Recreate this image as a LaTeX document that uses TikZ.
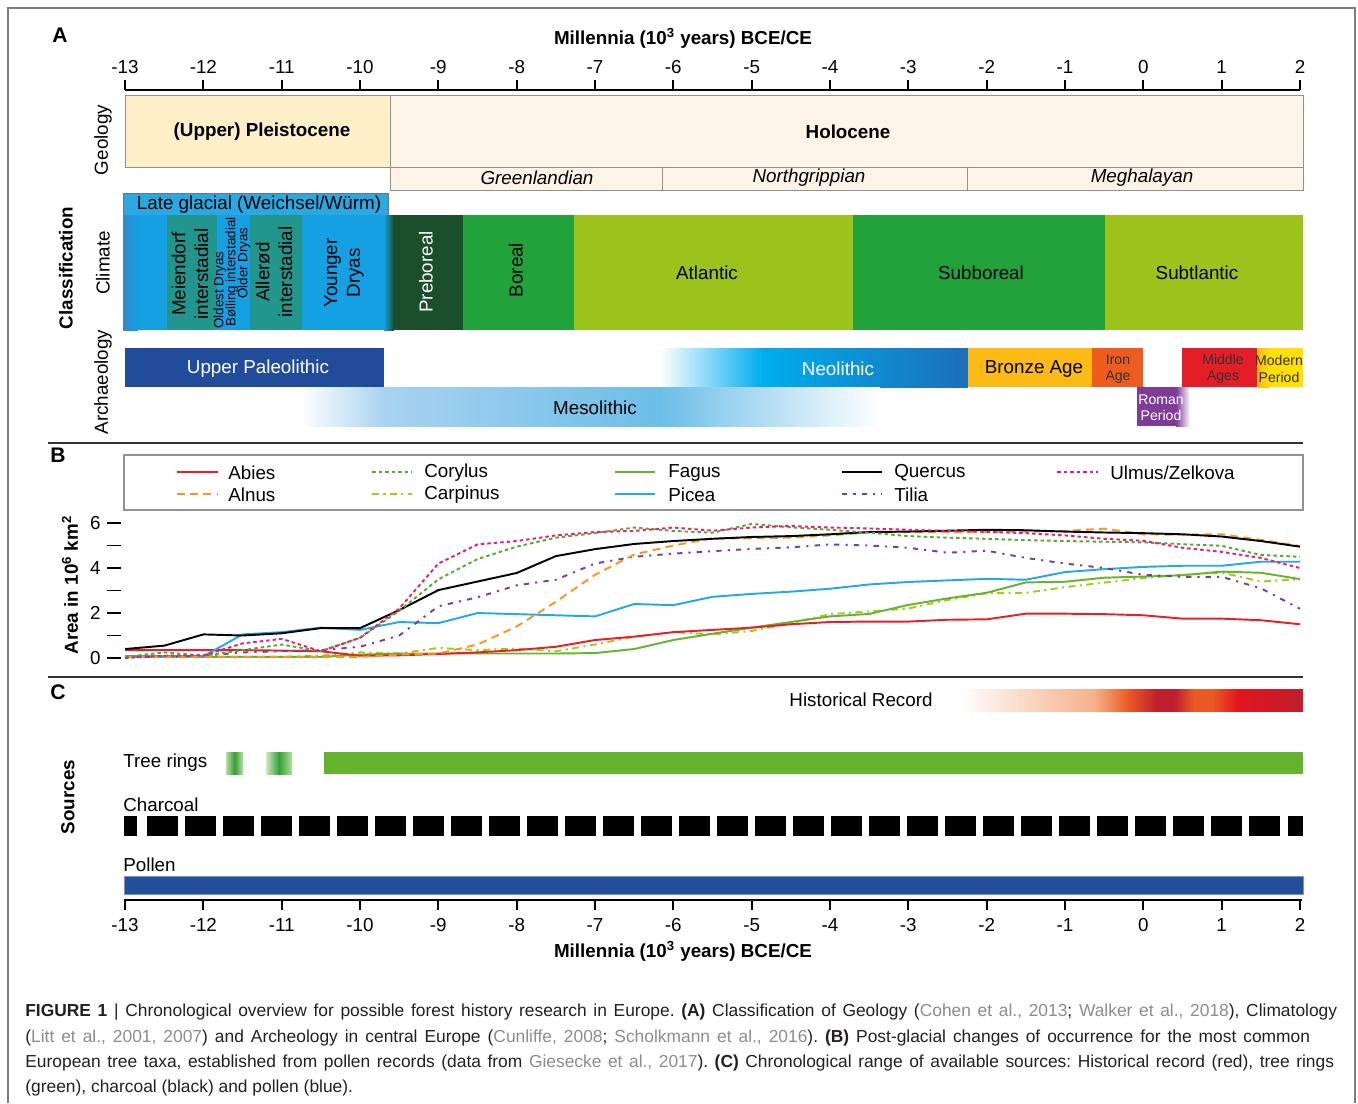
\documentclass[tikz,border=0pt]{standalone}
\usepackage{fontspec}
\setmainfont{Liberation Sans}
\usepackage{tikz}
\usetikzlibrary{calc}
\usepackage{xcolor}
\frenchspacing

\definecolor{framegray}{RGB}{125,125,125}
\definecolor{boxgray}{RGB}{145,145,145}
\definecolor{pleisto}{RGB}{253,240,200}
\definecolor{holo}{RGB}{253,243,230}
\definecolor{lateglacial}{RGB}{42,168,225}
\definecolor{climblue}{RGB}{20,160,226}
\definecolor{edgeblue}{RGB}{55,135,205}
\definecolor{climteal}{RGB}{34,150,140}
\definecolor{preboreal}{RGB}{27,78,42}
\definecolor{borealgreen}{RGB}{33,162,58}
\definecolor{atlanticgreen}{RGB}{155,195,28}
\definecolor{paleoblue}{RGB}{33,76,155}
\definecolor{neocyan}{RGB}{0,174,239}
\definecolor{neoblue}{RGB}{28,110,184}
\definecolor{bronze}{RGB}{252,186,20}
\definecolor{iron}{RGB}{237,92,30}
\definecolor{middleages}{RGB}{228,30,38}
\definecolor{modern}{RGB}{255,224,0}
\definecolor{roman}{RGB}{126,60,152}
\definecolor{mesolight}{RGB}{168,210,240}
\definecolor{mesomid}{RGB}{108,190,232}
\definecolor{abiesred}{RGB}{232,30,40}
\definecolor{alnusorange}{RGB}{248,150,30}
\definecolor{corylusgreen}{RGB}{85,170,50}
\definecolor{carpinusgreen}{RGB}{170,200,20}
\definecolor{fagusgreen}{RGB}{100,180,45}
\definecolor{piceablue}{RGB}{35,170,230}
\definecolor{tiliapurple}{RGB}{125,60,150}
\definecolor{ulmuspink}{RGB}{232,30,120}
\definecolor{histpeach}{RGB}{245,176,138}
\definecolor{historange}{RGB}{235,90,36}
\definecolor{histdark}{RGB}{190,30,45}
\definecolor{histred}{RGB}{227,20,28}
\definecolor{treegreen}{RGB}{101,178,46}
\definecolor{ringgreen}{RGB}{50,160,55}
\definecolor{pollenblue}{RGB}{34,78,154}
\definecolor{citegray}{RGB}{140,140,140}
\definecolor{captext}{RGB}{35,31,32}

\tikzset{
	panel/.style={inner sep=0pt, font=\bfseries\fontsize{12}{14}\selectfont},
	lbl/.style={inner sep=0pt, font=\fontsize{10.7}{13}\selectfont},
	blbl/.style={inner sep=0pt, font=\bfseries\fontsize{10.7}{13}\selectfont},
	sml/.style={inner sep=0pt, align=center, font=\fontsize{8}{9.3}\selectfont},
	minilbl/.style={inner sep=0pt, rotate=90, font=\fontsize{7.6}{8}\selectfont},
	twoline/.style={inner sep=0pt, align=center, rotate=90, font=\fontsize{10.7}{13}\selectfont},
	geobox/.style={draw=boxgray, line width=0.5pt},
	axisline/.style={line width=1.2pt},
	sepline/.style={draw=black!80, line width=0.7pt},
	capline/.style={inner sep=0pt, anchor=base west, text=captext, font=\fontsize{9.9}{14}\selectfont},
	taxon/.style={line width=1.1pt, line cap=butt, line join=round},
	abies/.style={taxon, abiesred},
	alnus/.style={taxon, alnusorange, dash pattern=on 4.5pt off 3pt},
	corylus/.style={taxon, corylusgreen, dash pattern=on 2pt off 1.7pt},
	carpinus/.style={taxon, carpinusgreen, dash pattern=on 4pt off 2.5pt on 1.2pt off 2.5pt},
	fagus/.style={taxon, fagusgreen},
	picea/.style={taxon, piceablue},
	quercus/.style={taxon, black},
	tilia/.style={taxon, tiliapurple, dash pattern=on 3pt off 3.5pt on 1.2pt off 3.5pt},
	ulmus/.style={taxon, ulmuspink, dash pattern=on 2pt off 1.7pt}
}

\begin{document}
\begin{tikzpicture}[x=0.02cm, y=-0.02cm]
	\useasboundingbox (0, 0) rectangle (1358, 1103);
	\draw [framegray, line width=0.8pt] (8, 1103) -- (8, 8) -- (1355, 8) -- (1355, 1103);

	% panel A
	\node [panel] (pa) at (60, 35) {A};
	\node [blbl] (toptitle) at (683, 38) {Millennia (10\textsuperscript{3} years) BCE/CE};
	\draw [axisline] (125, 90) -- (1300, 90);
	\foreach \m in {-13,...,2} {
		\draw [axisline] ({1143.3+78.33*\m}, 90) -- ++(0, -10);
		\node [lbl] (top\m) at ({1143.3+78.33*\m}, 67) {\m};
	}

	% geology
	\draw [geobox, fill=pleisto] (125, 95) rectangle (390, 167);
	\draw [geobox, fill=holo] (390, 95) rectangle (1303, 167);
	\draw [geobox, fill=holo] (390, 167) rectangle (662, 190);
	\draw [geobox, fill=holo] (662, 167) rectangle (967, 190);
	\draw [geobox, fill=holo] (967, 167) rectangle (1303, 190);
	\node [blbl] (pleistocene) at (262, 132) {(Upper) Pleistocene};
	\node [blbl] (holocene) at (848, 132) {Holocene};
	\node [lbl, font=\itshape\fontsize{10.7}{13}\selectfont] (greenlandian) at (537, 178) {Greenlandian};
	\node [lbl, font=\itshape\fontsize{10.7}{13}\selectfont] (northgrippian) at (809, 178) {Northgrippian};
	\node [lbl, font=\itshape\fontsize{10.7}{13}\selectfont] (meghalayan) at (1142, 178) {Meghalayan};

	% climate
	\draw [draw=black!55, fill=lateglacial, line width=0.5pt] (123, 193) rectangle (388, 215);
	\node [lbl] (lateglac) at (259, 205) {Late glacial (Weichsel/Würm)};
	\fill [climblue] (123, 215) rectangle (392, 330);
	\shade [left color=edgeblue, right color=climblue] (123, 215) rectangle (138, 330);
	\fill [climteal] (167, 215) rectangle (217, 330);
	\fill [climteal] (250, 215) rectangle (302, 330);
	\shade [left color=climblue, right color=preboreal] (384, 215) rectangle (394, 330);
	\fill [preboreal] (394, 215) rectangle (463, 330);
	\fill [borealgreen] (463, 215) rectangle (574, 330);
	\fill [atlanticgreen] (574, 215) rectangle (853, 330);
	\fill [borealgreen] (853, 215) rectangle (1105, 330);
	\fill [atlanticgreen] (1105, 215) rectangle (1303, 330);
	\node [twoline] (meiendorf) at (190, 274) {Meiendorf\\interstadial};
	\node [minilbl] (oldest) at (220, 290) {Oldest Dryas};
	\node [minilbl] (bolling) at (232, 272) {Bølling interstadial};
	\node [minilbl] (older) at (244, 263) {Older Dryas};
	\node [twoline] (allerod) at (274, 272) {Allerød\\interstadial};
	\node [twoline] (younger) at (344, 273) {Younger\\Dryas};
	\node [lbl, rotate=90, text=white] (prebor) at (426, 272) {Preboreal};
	\node [lbl, rotate=90] (boreal) at (516, 270) {Boreal};
	\node [lbl] (atlantic) at (707, 273) {Atlantic};
	\node [lbl] (subboreal) at (981, 273) {Subboreal};
	\node [lbl] (subatl) at (1197, 273) {Subtlantic};

	% archaeology
	\fill [paleoblue] (125, 348) rectangle (384, 387);
	\shade [left color=white, right color=neocyan] (660, 348) rectangle (762, 387);
	\shade [left color=neocyan, right color=neoblue] (762, 348) rectangle (968, 387);
	\fill [bronze] (968, 348) rectangle (1092, 387);
	\fill [iron] (1092, 348) rectangle (1143, 387);
	\fill [middleages] (1182, 348) rectangle (1257, 387);
	\shade [left color=bronze, right color=modern] (1257, 348) rectangle (1270, 387);
	\fill [modern] (1270, 348) rectangle (1303, 387);
	\fill [roman] (1137, 387) rectangle (1176, 426);
	\shade [left color=roman, right color=white] (1176, 387) rectangle (1190, 426);
	\shade [left color=white, right color=mesolight] (300, 387) rectangle (385, 426);
	\shade [left color=mesolight, right color=mesomid] (385, 387) rectangle (660, 426);
	\shade [left color=mesomid, right color=white] (660, 387) rectangle (880, 426);
	\node [lbl, text=white] (upperpaleo) at (258, 369) {Upper Paleolithic};
	\node [lbl, text=white] (neolithic) at (838, 369) {Neolithic};
	\node [lbl] (bronzeage) at (1034, 369) {Bronze Age};
	\node [sml, text=black!80] (ironage) at (1118, 369) {Iron\\Age};
	\node [sml, text=black!80] (middle) at (1223, 369) {Middle\\Ages};
	\node [sml, text=black!80] (modernp) at (1279, 369) {Modern\\Period};
	\node [sml, text=white] (romanp) at (1161, 408) {Roman\\Period};
	\node [lbl] (mesolithic) at (595, 408) {Mesolithic};

	% side labels
	\node [lbl, rotate=90] (geology) at (103, 140) {Geology};
	\node [blbl, rotate=90] (classif) at (66, 268) {Classification};
	\node [lbl, rotate=90] (climate) at (103, 263) {Climate};
	\node [lbl, rotate=90] (archaeo) at (103, 382) {Archaeology};

	\draw [sepline] (48, 443) -- (1303, 443);
	\draw [sepline] (48, 677) -- (1303, 677);

	% panel B
	\node [panel] (pb) at (58, 455) {B};
	\draw [draw=boxgray, line width=0.7pt] (124, 455) rectangle (1303, 510);
	\draw [abies] (177, 472) -- (218, 472);
	\node [lbl, anchor=west] (labies) at (228, 473) {Abies};
	\draw [alnus] (177, 494) -- (218, 494);
	\node [lbl, anchor=west] (lalnus) at (228, 495) {Alnus};
	\draw [corylus] (372, 472) -- (412, 472);
	\node [lbl, anchor=west] (lcorylus) at (424, 473) {Corylus};
	\draw [carpinus] (372, 494) -- (412, 494);
	\node [lbl, anchor=west] (lcarpinus) at (424, 495) {Carpinus};
	\draw [fagus] (615, 472) -- (655, 472);
	\node [lbl, anchor=west] (lfagus) at (668, 473) {Fagus};
	\draw [picea] (615, 494) -- (655, 494);
	\node [lbl, anchor=west] (lpicea) at (668, 495) {Picea};
	\draw [quercus] (842, 472) -- (882, 472);
	\node [lbl, anchor=west] (lquercus) at (894, 473) {Quercus};
	\draw [tilia] (842, 494) -- (882, 494);
	\node [lbl, anchor=west] (ltilia) at (894, 495) {Tilia};
	\draw [ulmus] (1057, 472) -- (1098, 472);
	\node [lbl, anchor=west] (lulmus) at (1110, 473) {Ulmus/Zelkova};

	\foreach \v in {0,...,6}
		\draw [line width=0.8pt] (107, {658-22.5*\v}) -- (121, {658-22.5*\v});
	\foreach \v in {0,2,4,6}
		\node [lbl, anchor=east] (ytick\v) at (101, {658-22.5*\v}) {\v};
	\node [blbl, rotate=90] (areaaxis) at (70, 585) {Area in 10\textsuperscript{6} km\textsuperscript{2}};

	\begin{scope}[shift={(1143.3, 658)}, x=1.5667cm, y=0.45cm]
		\draw [carpinus] (-13, 0.05) \foreach \v [count=\i] in {0.05, 0.05, 0.05, 0.05, 0.1, 0.25, 0.2, 0.45, 0.35, 0.42, 0.3, 0.6, 0.95, 1.15, 1.05, 1.2, 1.55, 1.95, 2.07, 2.2, 2.58, 2.88, 2.9, 3.15, 3.35, 3.55, 3.7, 3.8, 3.4, 3.5} { -- ({-13+0.5*\i}, \v) };
		\draw [fagus] (-13, 0.05) \foreach \v [count=\i] in {0.05, 0.05, 0.05, 0.05, 0.05, 0.15, 0.2, 0.2, 0.2, 0.2, 0.2, 0.22, 0.4, 0.8, 1.08, 1.35, 1.6, 1.85, 1.96, 2.36, 2.65, 2.9, 3.36, 3.39, 3.57, 3.62, 3.68, 3.84, 3.79, 3.51} { -- ({-13+0.5*\i}, \v) };
		\draw [abies] (-13, 0.35) \foreach \v [count=\i] in {0.35, 0.35, 0.35, 0.33, 0.3, 0.1, 0.12, 0.18, 0.25, 0.35, 0.5, 0.8, 0.95, 1.15, 1.25, 1.35, 1.5, 1.6, 1.62, 1.62, 1.7, 1.72, 1.97, 1.97, 1.95, 1.9, 1.75, 1.75, 1.68, 1.5} { -- ({-13+0.5*\i}, \v) };
		\draw [picea] (-13, 0.08) \foreach \v [count=\i] in {0.08, 0.08, 1.05, 1.15, 1.35, 1.25, 1.6, 1.55, 2.0, 1.95, 1.9, 1.85, 2.4, 2.35, 2.72, 2.85, 2.95, 3.08, 3.27, 3.38, 3.45, 3.52, 3.48, 3.82, 3.95, 4.05, 4.1, 4.1, 4.28, 4.28} { -- ({-13+0.5*\i}, \v) };
		\draw [tilia] (-13, 0.05) \foreach \v [count=\i] in {0.05, 0.1, 0.25, 0.3, 0.35, 0.5, 1.0, 2.3, 2.7, 3.23, 3.48, 4.2, 4.5, 4.64, 4.75, 4.85, 4.92, 5.05, 5.0, 4.9, 4.68, 4.77, 4.45, 4.2, 4.0, 3.7, 3.61, 3.61, 3.1, 2.19} { -- ({-13+0.5*\i}, \v) };
		\draw [alnus] (-13, 0.05) \foreach \v [count=\i] in {0.05, 0.05, 0.05, 0.05, 0.05, 0.05, 0.15, 0.2, 0.6, 1.4, 2.5, 3.7, 4.6, 5.0, 5.32, 5.32, 5.35, 5.45, 5.59, 5.59, 5.59, 5.6, 5.62, 5.65, 5.75, 5.5, 5.48, 5.5, 5.25, 4.98} { -- ({-13+0.5*\i}, \v) };
		\draw [quercus] (-13, 0.4) \foreach \v [count=\i] in {0.55, 1.05, 1.0, 1.1, 1.33, 1.33, 2.13, 3.02, 3.4, 3.78, 4.53, 4.84, 5.07, 5.2, 5.3, 5.38, 5.42, 5.5, 5.6, 5.62, 5.66, 5.7, 5.68, 5.62, 5.58, 5.55, 5.5, 5.4, 5.2, 4.95} { -- ({-13+0.5*\i}, \v) };
		\draw [corylus] (-13, 0.05) \foreach \v [count=\i] in {0.25, 0.1, 0.35, 0.6, 0.3, 0.9, 2.1, 3.5, 4.4, 4.95, 5.35, 5.55, 5.8, 5.65, 5.57, 5.96, 5.81, 5.7, 5.57, 5.42, 5.35, 5.3, 5.24, 5.2, 5.17, 5.14, 5.06, 4.99, 4.58, 4.5} { -- ({-13+0.5*\i}, \v) };
		\draw [ulmus] (-13, 0.0) \foreach \v [count=\i] in {0.1, 0.12, 0.65, 0.85, 0.3, 0.9, 2.2, 4.2, 5.05, 5.2, 5.45, 5.6, 5.65, 5.8, 5.66, 5.8, 5.87, 5.8, 5.76, 5.7, 5.65, 5.61, 5.55, 5.45, 5.3, 5.21, 4.9, 4.72, 4.45, 4.0} { -- ({-13+0.5*\i}, \v) };
	\end{scope}

	% panel C
	\node [panel] (pc) at (58, 692) {C};
	\node [lbl] (histrec) at (861, 700) {Historical Record};
	\shade [left color=white, right color=histpeach] (958, 689) rectangle (1095, 711);
	\shade [left color=histpeach, right color=historange] (1095, 689) rectangle (1128, 711);
	\shade [left color=historange, right color=histdark] (1128, 689) rectangle (1158, 711);
	\shade [left color=histdark, right color=histdark] (1158, 689) rectangle (1174, 711);
	\shade [left color=histdark, right color=historange] (1174, 689) rectangle (1194, 711);
	\shade [left color=historange, right color=historange] (1194, 689) rectangle (1213, 711);
	\shade [left color=historange, right color=histred] (1213, 689) rectangle (1238, 711);
	\shade [left color=histred, right color=histdark] (1238, 689) rectangle (1303, 711);

	\node [blbl, rotate=90] (sources) at (68, 797) {Sources};
	\node [lbl, anchor=west] (treerings) at (123, 763) {Tree rings};
	\shade [left color=treegreen!45, right color=treegreen!45, middle color=ringgreen] (226, 752) rectangle (243, 774);
	\shade [left color=treegreen!30, right color=treegreen!45, middle color=ringgreen] (266, 752) rectangle (292, 774);
	\fill [treegreen] (324, 752) rectangle (1303, 774);
	\node [lbl, anchor=west] (charcoal) at (123, 805) {Charcoal};
	\fill (124, 816) rectangle (137, 836);
	\foreach \k in {0,...,29}
		\fill ({147+38*\k}, 816) rectangle ++(31, 20);
	\fill (1288, 816) rectangle (1303, 836);
	\node [lbl, anchor=west] (pollen) at (123, 865) {Pollen};
	\draw [draw=pollenblue!60!white, fill=pollenblue, line width=0.5pt] (124, 876) rectangle (1303, 894);

	\draw [axisline] (124, 900) -- (1302, 900);
	\foreach \m in {-13,...,2} {
		\draw [axisline] ({1143.3+78.33*\m}, 900) -- ++(0, 10);
		\node [lbl] (bot\m) at ({1143.3+78.33*\m}, 925) {\m};
	}
	\node [blbl] (bottitle) at (683, 951) {Millennia (10\textsuperscript{3} years) BCE/CE};

	% caption
	\node [capline] (cap1) at (25, 1016) {\makebox[26.24cm][s]{\textbf{FIGURE 1} | Chronological overview for possible forest history research in Europe. \textbf{(A)} Classification of Geology ({\color{citegray}Cohen et al., 2013}; {\color{citegray}Walker et al., 2018}), Climatology}};
	\node [capline] (cap2) at (25, 1042) {\makebox[25.7cm][s]{({\color{citegray}Litt et al., 2001, 2007}) and Archeology in central Europe ({\color{citegray}Cunliffe, 2008}; {\color{citegray}Scholkmann et al., 2016}). \textbf{(B)} Post-glacial changes of occurrence for the most common}};
	\node [capline] (cap3) at (25, 1067) {\makebox[26.18cm][s]{European tree taxa, established from pollen records (data from {\color{citegray}Giesecke et al., 2017}). \textbf{(C)} Chronological range of available sources: Historical record (red), tree rings}};
	\node [capline] (cap4) at (25, 1092) {(green), charcoal (black) and pollen (blue).};
\end{tikzpicture}
\end{document}
